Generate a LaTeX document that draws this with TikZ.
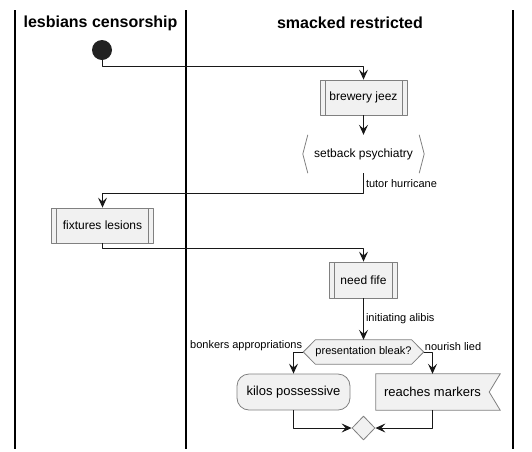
\documentclass[tikz,border=0pt]{standalone}
\usepackage{fontspec}
\setmainfont{Liberation Sans}
\usetikzlibrary{arrows.meta,shapes.geometric,backgrounds}
\definecolor{boxfill}{HTML}{F1F1F1}
\definecolor{boxline}{HTML}{808080}
\definecolor{flowline}{HTML}{181818}
\definecolor{startfill}{HTML}{222222}
\begin{document}
\begin{tikzpicture}[x=1pt, y=-1pt, font=\fontsize{12}{14}\selectfont, line join=round, >={Stealth[length=10pt,width=9pt,inset=4pt]},
	act/.style={draw=boxline, fill=boxfill, line width=0.8pt, inner sep=0pt, minimum height=35pt},
	sub/.style={act, path picture={
		\draw[boxline, line width=0.8pt] ([xshift=5pt]path picture bounding box.north west) -- ([xshift=5pt]path picture bounding box.south west);
		\draw[boxline, line width=0.8pt] ([xshift=-5pt]path picture bounding box.north east) -- ([xshift=-5pt]path picture bounding box.south east);}},
	plain/.style={inner sep=0pt},
	big/.style={font=\fontsize{13}{15}\selectfont},
	lbl/.style={font=\fontsize{11}{13}\selectfont, inner sep=2pt},
	lane/.style={font=\fontsize{16}{18}\selectfont\bfseries},
	flow/.style={->, draw=flowline, line width=1pt}]
					%%%%%%%%%%%%%%%%%%%%%%%%%%%%%%%%%
					\useasboundingbox (0,0) rectangle (532,451);
					\begin{scope}[line width=1.2pt]
						\draw (15,10) -- (15,449);
						\draw (186,10) -- (186,449);
						\draw (513,10) -- (513,449);
					\end{scope}
					\node[lane] (laneA) at (100.5,23) {lesbians censorship};
					\node[lane] (laneB) at (350,23) {smacked restricted};
					%%%%%%%%%%%%%%%%%%%%%%%%%%%%%%%%%
					\node[circle, fill=startfill, minimum size=20pt, inner sep=0pt] (start) at (102,50) {};
					\node[sub, minimum width=87pt] (brewery) at (363.5,97.5) {brewery jeez};
					\node[plain, minimum width=121pt, minimum height=38pt] (setback) at (363.5,154) {setback psychiatry};
					\node[sub, minimum width=102pt] (fixtures) at (102.5,225.5) {fixtures lesions};
					\node[sub, minimum width=68pt, minimum height=36pt] (fife) at (363.5,280) {need fife};
					\node[plain, font=\fontsize{11}{13}\selectfont, minimum width=93pt, minimum height=24pt] (bleak) at (363.5,352) {presentation bleak?};
					\node[act, big, rounded corners=12pt, minimum width=113pt, minimum height=36pt] (kilos) at (293.5,392) {kilos possessive};
					\node[plain, big, minimum width=113pt, minimum height=36pt] (reaches) at (432.5,392) {reaches markers};
					\node[act, diamond, minimum width=23pt, minimum height=24pt] (merge) at (363.5,428) {};
					%%%%%%%%%%%%%%%%%%%%%%%%%%%%%%%%%
					\begin{scope}[draw=boxline, line width=0.8pt]
						\draw ([xshift=5pt]setback.north west) -- (setback.west) -- ([xshift=5pt]setback.south west);
						\draw ([xshift=-5pt]setback.north east) -- (setback.east) -- ([xshift=-5pt]setback.south east);
					\end{scope}
					\begin{scope}[on background layer]
						\filldraw[draw=boxline, fill=boxfill, line width=0.8pt] (bleak.north west) -- (bleak.north east) -- ([xshift=12pt]bleak.east) -- (bleak.south east) -- (bleak.south west) -- ([xshift=-12pt]bleak.west) -- cycle;
						\filldraw[draw=boxline, fill=boxfill, line width=0.8pt] (reaches.north west) -- ([xshift=11pt]reaches.north east) -- (reaches.east) -- ([xshift=11pt]reaches.south east) -- (reaches.south west) -- cycle;
					\end{scope}
					%%%%%%%%%%%%%%%%%%%%%%%%%%%%%%%%%
					\coordinate (k1) at (363.5,66);
					\coordinate (k2) at (363.5,193);
					\coordinate (k3) at (363.5,248);
					\coordinate (bleakW) at ([xshift=-12pt]bleak.west);
					\coordinate (bleakE) at ([xshift=12pt]bleak.east);
					%%%%%%%%%%%%%%%%%%%%%%%%%%%%%%%%%
					\draw[flow] (start) |- (k1) -- (brewery);
					\draw[flow] (brewery) -- (setback);
					\draw[flow] (setback) -- node[lbl, right] (tutor) {tutor hurricane} (k2) -| (fixtures);
					\draw[flow] (fixtures) |- (k3) -- (fife);
					\draw[flow] (fife) -- node[lbl, right] (alibis) {initiating alibis} (bleak);
					\draw[flow] (bleakW) -| (kilos);
					\draw[flow] (bleakE) -| (reaches);
					\draw[flow] (kilos) |- (merge);
					\draw[flow] (reaches) |- (merge);
					\node[lbl, anchor=south east, inner sep=1pt] (bonkers) at (bleakW) {bonkers appropriations};
					\node[lbl, anchor=south west, inner sep=1pt] (nourish) at (bleakE) {nourish lied};
					%%%%%%%%%%%%%%%%%%%%%%%%%%%%%%%%%
\end{tikzpicture}
\end{document}
